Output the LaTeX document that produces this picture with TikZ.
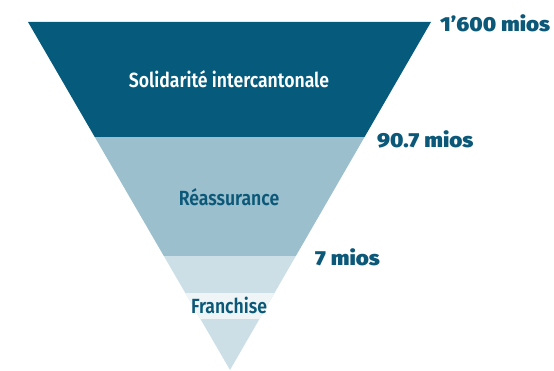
\documentclass[tikz,border=0pt]{standalone}
\usepackage{fontspec}
\setmainfont{Fira Sans}
\newfontfamily\labelfont{Fira Sans SemiBold}[FakeStretch=0.86]
\newfontfamily\amountfont{Fira Sans Black}[FakeStretch=1.1]
\definecolor{bandDark}{HTML}{065A7C}
\definecolor{bandMid}{HTML}{9BBFCD}
\definecolor{bandLight}{HTML}{CCDFE6}
\definecolor{franchBg}{HTML}{EFF5F7}
\definecolor{labelBlue}{HTML}{0B5878}
\begin{document}
\begin{tikzpicture}[x=1pt,y=-1pt,
  bandlabel/.style={font=\labelfont\fontsize{20.5}{24}\selectfont, inner sep=0pt},
  amount/.style={font=\amountfont\fontsize{20.3}{24}\selectfont, text=labelBlue, anchor=west, inner sep=0pt}]
\useasboundingbox (0,0) rectangle (554,371);
\coordinate (TL) at (28,22);
\coordinate (TR) at (431,22);
\coordinate (A) at (230,370);
\begin{scope}
  \clip (TL) -- (TR) -- (A) -- cycle;
  \fill[bandDark] (0,21) rectangle (554,137);
  \fill[bandMid] (0,137) rectangle (554,256);
  \fill[bandLight] (0,256) rectangle (554,372);
  \fill[franchBg] (0,293) rectangle (554,319);
\end{scope}
\node[bandlabel, text=white] (sol) at (229,79) {Solidarité intercantonale};
\node[bandlabel, text=labelBlue] (rea) at (229,197) {Réassurance};
\node[bandlabel, text=labelBlue] (fra) at (229,305) {Franchise};
\node[amount] (a1) at (440,23) {1’600 mios};
\node[amount] (a2) at (377,139) {90.7 mios};
\node[amount] (a3) at (315,257) {7 mios};
\end{tikzpicture}
\end{document}
